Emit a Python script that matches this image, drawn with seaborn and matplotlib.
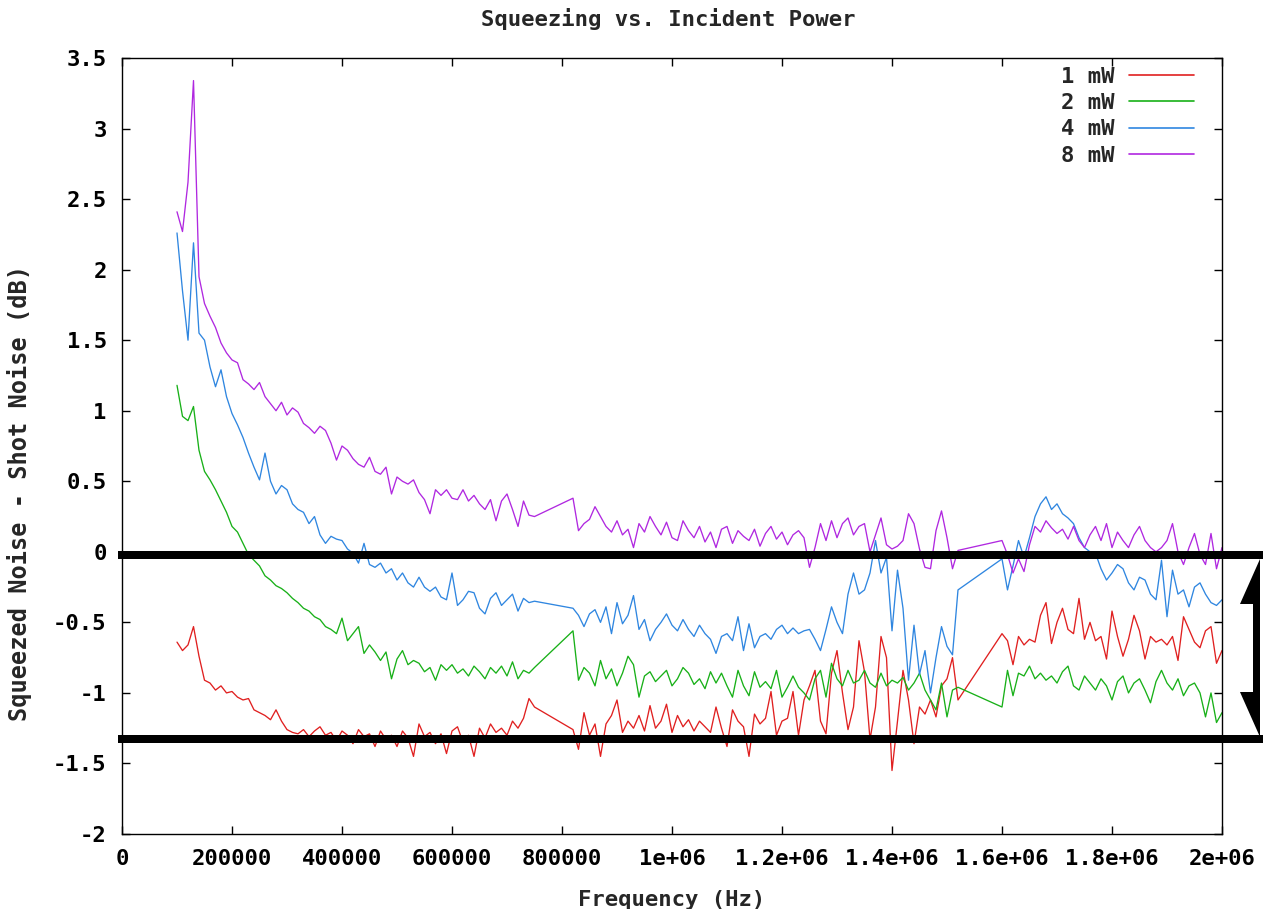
import numpy as np
import pandas as pd
import matplotlib
matplotlib.use("Agg")
import matplotlib.pyplot as plt
from matplotlib.patches import Rectangle, Polygon
from matplotlib.lines import Line2D
import seaborn as sns

# ---------------- data ----------------
freq_seg1 = np.arange(100000, 750001, 10000)
freq_seg2 = np.arange(820000, 1520001, 10000)
freq_seg3 = np.arange(1600000, 2000001, 10000)

series_labels = ["1 mW", "2 mW", "4 mW", "8 mW"]
series_colors = ["#e02020", "#18b018", "#2f86e0", "#b028e0"]

mw1_seg1 = [-0.64, -0.70, -0.66, -0.53, -0.74, -0.91, -0.93, -0.98, -0.95, -1.00,
            -0.99, -1.03, -1.05, -1.04, -1.12, -1.14, -1.16, -1.19, -1.12, -1.20,
            -1.26, -1.28, -1.29, -1.26, -1.31, -1.27, -1.24, -1.30, -1.28, -1.34,
            -1.27, -1.30, -1.36, -1.26, -1.31, -1.29, -1.38, -1.27, -1.33, -1.30,
            -1.38, -1.27, -1.32, -1.45, -1.22, -1.31, -1.28, -1.36, -1.29, -1.43,
            -1.27, -1.24, -1.35, -1.30, -1.45, -1.25, -1.32, -1.22, -1.28, -1.25,
            -1.30, -1.20, -1.25, -1.18, -1.04, -1.10]
mw1_seg2 = [-1.26, -1.40, -1.14, -1.30, -1.22, -1.45, -1.22, -1.16, -1.05, -1.28,
            -1.20, -1.25, -1.16, -1.27, -1.09, -1.25, -1.20, -1.08, -1.28, -1.16,
            -1.24, -1.19, -1.27, -1.20, -1.24, -1.28, -1.10, -1.25, -1.38, -1.12,
            -1.20, -1.24, -1.45, -1.15, -1.22, -1.18, -0.99, -1.30, -1.20, -1.18,
            -0.99, -1.30, -1.05, -0.95, -0.84, -1.20, -1.29, -0.86, -0.70, -1.00,
            -1.26, -1.10, -0.63, -0.85, -1.33, -1.10, -0.60, -0.75, -1.55, -1.20,
            -0.84, -1.05, -1.36, -1.10, -1.15, -1.05, -1.17, -0.95, -0.90, -0.75,
            -1.05]
mw1_seg3 = [-0.58, -0.63, -0.80, -0.60, -0.66, -0.62, -0.64, -0.45, -0.36, -0.65,
            -0.50, -0.40, -0.55, -0.58, -0.33, -0.62, -0.50, -0.63, -0.60, -0.76,
            -0.42, -0.60, -0.74, -0.62, -0.45, -0.56, -0.76, -0.60, -0.64, -0.62,
            -0.66, -0.60, -0.77, -0.46, -0.55, -0.64, -0.68, -0.56, -0.53, -0.79,
            -0.70]

mw2_seg1 = [1.18, 0.96, 0.93, 1.03, 0.72, 0.57, 0.51, 0.44, 0.36, 0.28,
            0.18, 0.14, 0.06, -0.02, -0.06, -0.10, -0.17, -0.20, -0.24, -0.26,
            -0.29, -0.33, -0.36, -0.40, -0.42, -0.46, -0.48, -0.53, -0.55, -0.58,
            -0.47, -0.63, -0.58, -0.53, -0.72, -0.66, -0.71, -0.77, -0.71, -0.90,
            -0.76, -0.70, -0.80, -0.77, -0.79, -0.85, -0.82, -0.91, -0.80, -0.84,
            -0.80, -0.86, -0.83, -0.88, -0.81, -0.85, -0.90, -0.82, -0.86, -0.81,
            -0.88, -0.78, -0.90, -0.84, -0.86, -0.82]
mw2_seg2 = [-0.56, -0.91, -0.82, -0.86, -0.95, -0.77, -0.90, -0.83, -0.95, -0.86,
            -0.74, -0.80, -1.03, -0.88, -0.85, -0.92, -0.88, -0.84, -0.95, -0.90,
            -0.82, -0.86, -0.94, -0.90, -0.97, -0.85, -0.93, -0.86, -0.95, -1.03,
            -0.84, -0.95, -1.02, -0.85, -0.96, -0.92, -0.97, -0.84, -1.03, -0.96,
            -0.88, -0.96, -1.00, -1.05, -0.90, -0.84, -1.03, -0.79, -0.90, -0.95,
            -0.84, -0.93, -0.91, -0.84, -0.93, -0.96, -0.86, -0.95, -0.91, -0.93,
            -0.89, -0.98, -0.93, -0.86, -0.98, -1.05, -1.12, -0.93, -1.17, -0.98,
            -0.96]
mw2_seg3 = [-1.10, -0.84, -1.02, -0.86, -0.88, -0.81, -0.90, -0.86, -0.91, -0.88,
            -0.93, -0.85, -0.81, -0.95, -0.98, -0.88, -0.93, -0.98, -0.90, -0.95,
            -1.05, -0.92, -0.88, -1.00, -0.93, -0.90, -0.98, -1.07, -0.92, -0.84,
            -0.93, -0.98, -0.90, -1.02, -0.95, -0.93, -1.00, -1.17, -1.00, -1.21,
            -1.14]

mw4_seg1 = [2.26, 1.85, 1.50, 2.19, 1.55, 1.50, 1.31, 1.17, 1.29, 1.10,
            0.98, 0.90, 0.81, 0.70, 0.60, 0.51, 0.70, 0.50, 0.41, 0.47,
            0.44, 0.34, 0.30, 0.28, 0.20, 0.25, 0.12, 0.06, 0.11, 0.09,
            0.08, 0.02, -0.01, -0.08, 0.06, -0.09, -0.11, -0.08, -0.15, -0.12,
            -0.20, -0.15, -0.22, -0.25, -0.18, -0.25, -0.28, -0.25, -0.32, -0.34,
            -0.15, -0.38, -0.34, -0.28, -0.29, -0.40, -0.44, -0.33, -0.29, -0.38,
            -0.34, -0.30, -0.42, -0.33, -0.36, -0.35]
mw4_seg2 = [-0.40, -0.45, -0.53, -0.44, -0.41, -0.50, -0.39, -0.58, -0.36, -0.51,
            -0.45, -0.31, -0.55, -0.48, -0.63, -0.55, -0.50, -0.44, -0.52, -0.56,
            -0.48, -0.55, -0.60, -0.52, -0.58, -0.62, -0.72, -0.60, -0.58, -0.63,
            -0.46, -0.70, -0.51, -0.68, -0.60, -0.58, -0.62, -0.55, -0.52, -0.58,
            -0.54, -0.58, -0.56, -0.55, -0.62, -0.70, -0.55, -0.39, -0.50, -0.58,
            -0.30, -0.15, -0.30, -0.27, -0.15, 0.08, -0.15, -0.04, -0.56, -0.13,
            -0.40, -0.91, -0.52, -0.87, -0.70, -1.00, -0.75, -0.53, -0.67, -0.73,
            -0.27]
mw4_seg3 = [-0.05, -0.27, -0.10, 0.08, -0.04, 0.10, 0.25, 0.34, 0.39, 0.30,
            0.34, 0.27, 0.24, 0.20, 0.10, 0.03, 0.00, -0.01, -0.12, -0.20,
            -0.15, -0.09, -0.12, -0.22, -0.27, -0.18, -0.20, -0.30, -0.34, -0.06,
            -0.46, -0.13, -0.30, -0.27, -0.39, -0.25, -0.22, -0.30, -0.36, -0.38,
            -0.34]

mw8_seg1 = [2.41, 2.27, 2.62, 3.34, 1.95, 1.76, 1.67, 1.59, 1.48, 1.41,
            1.36, 1.34, 1.22, 1.19, 1.15, 1.20, 1.10, 1.05, 1.00, 1.06,
            0.97, 1.02, 0.99, 0.91, 0.88, 0.84, 0.89, 0.86, 0.77, 0.65,
            0.75, 0.72, 0.66, 0.62, 0.60, 0.67, 0.57, 0.55, 0.60, 0.41,
            0.53, 0.50, 0.48, 0.51, 0.42, 0.37, 0.27, 0.44, 0.40, 0.44,
            0.38, 0.37, 0.44, 0.36, 0.40, 0.34, 0.30, 0.37, 0.22, 0.36,
            0.41, 0.30, 0.18, 0.36, 0.26, 0.25]
mw8_seg2 = [0.38, 0.15, 0.20, 0.23, 0.32, 0.25, 0.18, 0.14, 0.22, 0.12,
            0.16, 0.03, 0.20, 0.14, 0.25, 0.18, 0.12, 0.21, 0.10, 0.08,
            0.22, 0.15, 0.10, 0.18, 0.07, 0.14, 0.03, 0.16, 0.18, 0.06,
            0.15, 0.11, 0.08, 0.16, 0.04, 0.13, 0.18, 0.09, 0.14, 0.05,
            0.12, 0.15, 0.10, -0.11, 0.03, 0.20, 0.08, 0.22, 0.10, 0.20,
            0.24, 0.12, 0.18, 0.20, 0.00, 0.12, 0.24, 0.05, 0.02, 0.04,
            0.08, 0.27, 0.20, 0.02, -0.11, -0.12, 0.15, 0.29, 0.10, -0.12,
            0.01]
mw8_seg3 = [0.08, -0.02, -0.15, -0.05, -0.14, 0.05, 0.18, 0.14, 0.22, 0.17,
            0.13, 0.16, 0.09, 0.18, 0.08, 0.03, 0.12, 0.18, 0.08, 0.20,
            0.03, 0.14, 0.08, 0.03, 0.12, 0.18, 0.08, 0.03, 0.00, 0.03,
            0.08, 0.20, 0.00, -0.09, 0.03, 0.13, -0.02, -0.09, 0.13, -0.12,
            0.03]

x_ticks = [0, 200000, 400000, 600000, 800000, 1000000, 1200000, 1400000,
           1600000, 1800000, 2000000]
x_tick_labels = ["0", "200000", "400000", "600000", "800000", "1e+06",
                 "1.2e+06", "1.4e+06", "1.6e+06", "1.8e+06", "2e+06"]
y_ticks = [-2, -1.5, -1, -0.5, 0, 0.5, 1, 1.5, 2, 2.5, 3, 3.5]
y_tick_labels = ["-2", "-1.5", "-1", "-0.5", "0", "0.5", "1", "1.5", "2",
                 "2.5", "3", "3.5"]

# ---------------- build table ----------------
freq = np.concatenate([freq_seg1, freq_seg2, freq_seg3])
series_values = [
    mw1_seg1 + mw1_seg2 + mw1_seg3,
    mw2_seg1 + mw2_seg2 + mw2_seg3,
    mw4_seg1 + mw4_seg2 + mw4_seg3,
    mw8_seg1 + mw8_seg2 + mw8_seg3,
]
frames = []
for lab, vals in zip(series_labels, series_values):
    frames.append(pd.DataFrame({"freq": freq, "value": np.array(vals), "power": lab}))
df = pd.concat(frames, ignore_index=True)

# ---------------- style ----------------
sns.set_style("ticks")
plt.rcParams["font.family"] = ["DejaVu Sans Mono", "DejaVu Sans"]
plt.rcParams["font.weight"] = "bold"

FS = 16
W, H = 1263, 909
fig = plt.figure(figsize=(W / 100, H / 100), dpi=100)
ax = fig.add_axes([122 / W, 1 - 834 / H, (1222 - 122) / W, (834 - 58) / H])

sns.lineplot(data=df, x="freq", y="value", hue="power", hue_order=series_labels,
             palette=series_colors, estimator=None, sort=False, linewidth=0.95,
             legend=False, ax=ax)

ax.set_xlim(0, 2000000)
ax.set_ylim(-2, 3.5)
ax.set_xticks(x_ticks)
ax.set_xticklabels(x_tick_labels)
ax.set_yticks(y_ticks)
ax.set_yticklabels(y_tick_labels)
ax.tick_params(direction="in", length=6, width=1, top=True, right=True,
               labelsize=FS, pad=11, colors="black")
for lab in ax.get_xticklabels() + ax.get_yticklabels():
    lab.set_fontweight("bold")
for sp in ax.spines.values():
    sp.set_visible(True)
    sp.set_linewidth(1.0)
    sp.set_color("black")

ax.set_xlabel("Frequency (Hz)", fontsize=FS, fontweight="bold", labelpad=15)
ax.set_ylabel("Squeezed Noise - Shot Noise (dB)", fontsize=17, fontweight="bold")
ax.yaxis.set_label_coords(-0.082, 0.44)
fig.text(668 / W, 1 - 19 / H, "Squeezing vs. Incident Power", ha="center",
         va="center", fontsize=FS, fontweight="bold")

handles = [Line2D([0], [0], color=c, lw=1.2) for c in series_colors]
leg = ax.legend(handles, series_labels, loc="upper right",
                bbox_to_anchor=(0.983, 1.0), frameon=False,
                markerfirst=False, handlelength=2.93,
                handletextpad=0.68, labelspacing=0.28, borderaxespad=0.0,
                prop={"weight": "bold", "size": FS})

# ---------------- hand-drawn annotations (figure pixels) ----------------
def fx(px):
    return px / W

def fy(py):
    return 1 - py / H

for y_top in (551, 735):
    fig.add_artist(Rectangle((fx(118), fy(y_top + 8)), fx(1263) - fx(118),
                             8 / H, transform=fig.transFigure,
                             facecolor="black", edgecolor="none", zorder=10))

arrow_px = [(1260, 559), (1260, 737), (1240, 692), (1253, 692),
            (1253, 604), (1240, 604)]
fig.add_artist(Polygon([(fx(a), fy(b)) for a, b in arrow_px], closed=True,
                       transform=fig.transFigure, facecolor="black",
                       edgecolor="none", zorder=10))

fig.savefig("out.png", dpi=100)
